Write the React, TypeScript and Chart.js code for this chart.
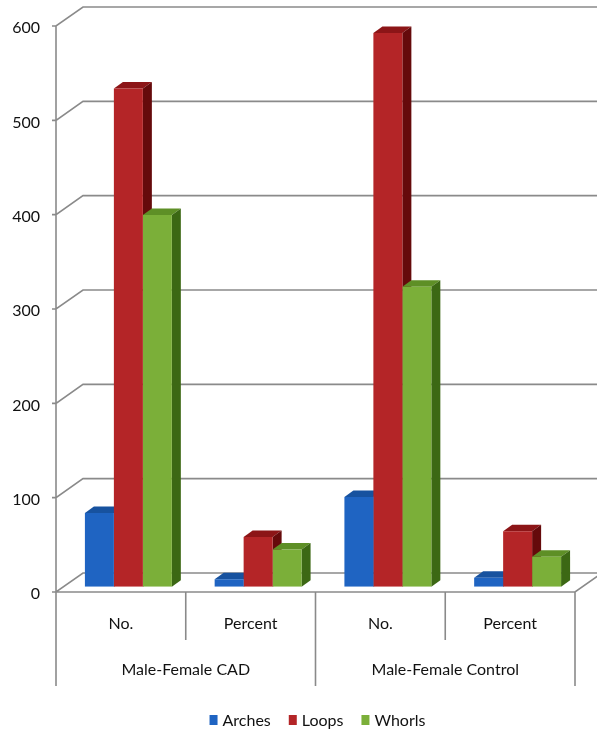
import React, { useEffect, useRef } from 'react';
import { Chart, registerables } from 'chart.js';

Chart.register(...registerables);

// ---- data ----
const categories = ['No.', 'Percent', 'No.', 'Percent'];
const groups = ['Male-Female CAD', 'Male-Female Control'];
const seriesNames = ['Arches', 'Loops', 'Whorls'];
const arches = [78, 7.8, 95, 9.5];
const loops = [528, 52.8, 587, 58.7];
const whorls = [394, 39.4, 318, 31.8];
const yMin = 0;
const yMax = 600;
const yStep = 100;

// ---- style ----
const FONT = 'Lato';
const TEXT = '#111111';
const GRID = '#8a8a8a';
const frontColors = ['#1F64C2', '#B42527', '#7BAF39'];
const topColors = ['#17529F', '#8C1517', '#5E8F26'];
const sideColors = ['#0F3C7C', '#650A0B', '#3C6814'];
const FRONT = { dx: -7.5, dy: 5.3 };
const BACK = { dx: 19.5, dy: -13.7 };
const DEPTH = { dx: 9, dy: -6.5 };

const wall3d = {
  id: 'wall3d',
  beforeDatasetsDraw(chart: any) {
    const { ctx, chartArea } = chart;
    const y = chart.scales.y;
    const x = chart.scales.x;
    const fl = chartArea.left + FRONT.dx;
    const fr = chartArea.right + FRONT.dx;
    const bl = chartArea.left + BACK.dx;
    ctx.save();
    ctx.strokeStyle = GRID;
    ctx.lineWidth = 1.6;
    ctx.beginPath();
    for (let v = yMin; v <= yMax; v += yStep) {
      const yb = y.getPixelForValue(v);
      const yf = yb + FRONT.dy;
      const yk = yb + BACK.dy;
      ctx.moveTo(fl - 4, yf);
      ctx.lineTo(fl, yf);
      ctx.lineTo(bl, yk);
      ctx.lineTo(chart.width, yk);
    }
    const y0 = y.getPixelForValue(yMin);
    const yTop = y.getPixelForValue(yMax);
    // front axis
    ctx.moveTo(fl, yTop + FRONT.dy);
    ctx.lineTo(fl, y0 + FRONT.dy);
    // floor front edge and right diagonal
    ctx.moveTo(fl, y0 + FRONT.dy);
    ctx.lineTo(fr, y0 + FRONT.dy);
    ctx.lineTo(chartArea.right + BACK.dx, y0 + BACK.dy);
    // category dividers
    for (let i = 0; i <= categories.length; i++) {
      const xb = x.getPixelForValue(i - 0.5) + FRONT.dx;
      const len = i % 2 === 0 ? 94 : 48;
      ctx.moveTo(xb, y0 + FRONT.dy);
      ctx.lineTo(xb, y0 + FRONT.dy + len);
    }
    ctx.stroke();

    // depth faces (top + right side) of every bar, left to right;
    // the library then paints the front faces over them
    const metas = chart.getSortedVisibleDatasetMetas().slice().sort((a: any, b: any) => a.index - b.index);
    for (let c = 0; c < categories.length; c++) {
      metas.forEach((meta: any) => {
        const el = meta.data[c];
        if (!el) return;
        const si = meta.index;
        const { x: bx, y: by, base, width } = el.getProps(['x', 'y', 'base', 'width'], true);
        const l = bx - width / 2;
        const r = bx + width / 2;
        ctx.fillStyle = topColors[si];
        ctx.beginPath();
        ctx.moveTo(l, by);
        ctx.lineTo(r, by);
        ctx.lineTo(r + DEPTH.dx, by + DEPTH.dy);
        ctx.lineTo(l + DEPTH.dx, by + DEPTH.dy);
        ctx.closePath();
        ctx.fill();
        ctx.fillStyle = sideColors[si];
        ctx.beginPath();
        ctx.moveTo(r, by);
        ctx.lineTo(r + DEPTH.dx, by + DEPTH.dy);
        ctx.lineTo(r + DEPTH.dx, base + DEPTH.dy);
        ctx.lineTo(r, base);
        ctx.closePath();
        ctx.fill();
      });
    }
    ctx.restore();
  },
  afterDraw(chart: any) {
    const { ctx } = chart;
    const x = chart.scales.x;
    const cx = (x.getPixelForValue(-0.5) + x.getPixelForValue(categories.length - 0.5)) / 2 + FRONT.dx + 2;
    const cy = 721;
    ctx.save();
    ctx.font = `16px ${FONT}`;
    ctx.textBaseline = 'middle';
    ctx.textAlign = 'left';
    const box = 8;
    const gapBox = 5;
    const gapItem = 18;
    const widths = seriesNames.map((n) => box + gapBox + ctx.measureText(n).width);
    const total = widths.reduce((a, b) => a + b, 0) + gapItem * (seriesNames.length - 1);
    let px = cx - total / 2;
    seriesNames.forEach((n, i) => {
      ctx.fillStyle = frontColors[i];
      ctx.fillRect(px, cy - 6, box, 10);
      ctx.fillStyle = TEXT;
      ctx.fillText(n, px + box + gapBox, cy);
      px += widths[i] + gapItem;
    });
    ctx.restore();
  },
};

export default function App() {
  const ref = useRef<HTMLCanvasElement | null>(null);
  useEffect(() => {
    if (!ref.current) return;
    const tickFont = { family: FONT, size: 16 };
    const chart = new Chart(ref.current, {
      type: 'bar',
      data: {
        labels: categories,
        datasets: [
          { label: seriesNames[0], data: arches, backgroundColor: frontColors[0] },
          { label: seriesNames[1], data: loops, backgroundColor: frontColors[1] },
          { label: seriesNames[2], data: whorls, backgroundColor: frontColors[2] },
        ],
      },
      options: {
        animation: false,
        responsive: false,
        maintainAspectRatio: false,
        datasets: { bar: { categoryPercentage: 0.67, barPercentage: 1.0, borderWidth: 0 } },
        layout: { padding: { top: 20.7, right: 14.5, bottom: 45.3, left: 0 } },
        plugins: { legend: { display: false }, tooltip: { enabled: false } },
        scales: {
          x: {
            type: 'category',
            position: 'bottom',
            grid: { display: false, drawTicks: false },
            border: { display: false },
            ticks: { font: tickFont, color: TEXT, padding: 28, labelOffset: -7.5, maxRotation: 0, autoSkip: false },
            afterFit: (s: any) => { s.height = 55; s.paddingLeft = 0; s.paddingRight = 0; },
          },
          x2: {
            type: 'category',
            labels: groups,
            position: 'bottom',
            grid: { display: false, drawTicks: false },
            border: { display: false },
            ticks: { font: tickFont, color: TEXT, padding: 19, labelOffset: -7.5, maxRotation: 0, autoSkip: false },
            afterFit: (s: any) => { s.height = 45; s.paddingLeft = 0; s.paddingRight = 0; },
          },
          y: {
            min: yMin,
            max: yMax,
            grid: { display: false, drawTicks: false },
            border: { display: false },
            ticks: { stepSize: yStep, font: tickFont, color: TEXT, padding: 23.5, labelOffset: 7.5 },
            afterFit: (s: any) => { s.width = 63.5; s.paddingTop = 0; s.paddingBottom = 0; },
          },
        },
      } as any,
      plugins: [wall3d],
    });
    return () => chart.destroy();
  }, []);
  return (
    <div style={{ position: 'absolute', left: 0, top: 0, width: 597, height: 732, background: '#fff' }}>
      <canvas ref={ref} width={597} height={732} style={{ display: 'block' }} />
    </div>
  );
}
